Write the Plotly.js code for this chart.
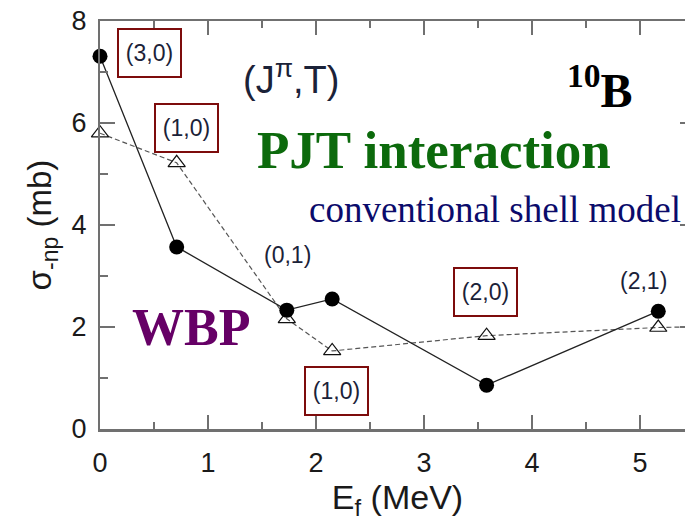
<!DOCTYPE html>
<html>
<head>
<meta charset="utf-8">
<script src="https://cdn.plot.ly/plotly-3.0.1.min.js"></script>
<style>
  html, body { margin: 0; padding: 0; overflow: hidden; background: #fff; }
  #chart { width: 700px; height: 523px; }
</style>
</head>
<body>
<div id="chart"></div>
<script>
// Excitation energies of the final states (MeV)
const energyWBP = [0, 0.71, 1.73, 2.15, 3.58, 5.17];
// sigma_-np cross sections from the WBP interaction (mb)
const sigmaWBP = [7.31, 3.57, 2.33, 2.55, 0.86, 2.31];

// Conventional shell model (PJT interaction)
const energyPJT = [0, 0.71, 1.73, 2.15, 3.58, 5.17, 5.62];
const sigmaPJT = [5.80, 5.22, 2.16, 1.53, 1.83, 1.99, 2.01];

// State labels (J^pi, T)
const stateText = ['(3,0)', '(1,0)', '(0,1)', '(1,0)', '(2,0)', '(2,1)'];
const stateX = [0.46, 0.80, 1.74, 2.19, 3.57, 5.03];
const stateY = [7.37, 5.90, 3.41, 0.75, 2.69, 2.90];
const stateBoxed = [true, true, false, true, true, false];

const xTickVals = [0, 1, 2, 3, 4, 5];
const yTickVals = [0, 2, 4, 6, 8];

const axisGray = '#707070';
const labelInk = '#1b2238';
const boxRed = '#7d0c0c';

const traces = [
  {
    x: energyPJT, y: sigmaPJT,
    mode: 'lines+markers', type: 'scatter',
    line: { color: '#555', width: 1.2, dash: '5px,3px' },
    marker: { symbol: 'triangle-up-open', size: 15, color: '#111', line: { width: 1.2 } },
    cliponaxis: false, hoverinfo: 'skip', showlegend: false
  },
  {
    x: energyWBP, y: sigmaWBP,
    mode: 'lines+markers', type: 'scatter',
    line: { color: '#222', width: 1.3 },
    marker: { symbol: 'circle', size: 15, color: '#000' },
    cliponaxis: false, hoverinfo: 'skip', showlegend: false
  }
];

const sans = 'Liberation Sans, Arial, sans-serif';
const serif = 'Liberation Serif, Times New Roman, serif';

const annotations = stateText.map((t, i) => {
  const a = {
    x: stateX[i], y: stateY[i], xref: 'x', yref: 'y',
    text: t, showarrow: false,
    font: { family: sans, size: 23, color: labelInk }
  };
  if (stateBoxed[i]) {
    Object.assign(a, { width: 59, height: 44, bordercolor: boxRed, borderwidth: 2, borderpad: 1 });
  }
  return a;
});

annotations.push(
  { x: 1.77, y: 6.90, xref: 'x', yref: 'y', showarrow: false,
    text: '(J<sup>π</sup>,T)', font: { family: sans, size: 38, color: labelInk } },
  { x: 4.63, y: 6.70, xref: 'x', yref: 'y', showarrow: false,
    text: '<b><sup>10</sup>B</b>', font: { family: serif, size: 48, color: '#000' } },
  { x: 3.09, y: 5.47, xref: 'x', yref: 'y', showarrow: false,
    text: '<b>PJT interaction</b>', font: { family: serif, size: 53, color: '#0c6a0c' } },
  { x: 3.66, y: 4.30, xref: 'x', yref: 'y', showarrow: false,
    text: 'conventional shell model', font: { family: serif, size: 37, color: '#0b0b6b' } },
  { x: 0.84, y: 2.00, xref: 'x', yref: 'y', showarrow: false,
    text: '<b>WBP</b>', font: { family: serif, size: 52, color: '#660066' } }
);

const layout = {
  width: 700, height: 523,
  margin: { l: 100, r: 5, t: 21, b: 94 },
  paper_bgcolor: '#fff', plot_bgcolor: '#fff',
  showlegend: false,
  xaxis: {
    range: [0, 5.51], showgrid: false, zeroline: false,
    showline: true, linecolor: axisGray, linewidth: 2.5, mirror: 'allticks',
    ticks: 'inside', ticklen: 14, tickwidth: 1.5, tickcolor: axisGray,
    tickvals: xTickVals, ticktext: xTickVals.map(String),
    minor: { dtick: 0.5, ticklen: 7, tickwidth: 1.5, tickcolor: axisGray, ticks: 'inside', showgrid: false },
    tickfont: { family: sans, size: 27, color: '#1a1a1a' },
    ticklabelstandoff: 8,
    title: { text: 'E<sub>f</sub> (MeV)', font: { family: sans, size: 34, color: '#1a1a1a' }, standoff: 4 }
  },
  xaxis2: {
    overlaying: 'x', matches: 'x', side: 'bottom', anchor: 'y',
    range: [0, 5.51], showgrid: false, zeroline: false, showline: false,
    ticks: 'outside', ticklen: 10, tickwidth: 1.5, tickcolor: axisGray,
    tickvals: xTickVals, showticklabels: false,
    minor: { dtick: 0.5, ticklen: 8, tickwidth: 1.5, tickcolor: axisGray, ticks: 'outside', showgrid: false }
  },
  yaxis: {
    range: [0, 8], showgrid: false, zeroline: false,
    showline: true, linecolor: axisGray, linewidth: 2, mirror: 'allticks',
    ticks: 'inside', ticklen: 15, tickwidth: 1.5, tickcolor: axisGray,
    tickvals: yTickVals, ticktext: yTickVals.map(String),
    minor: { dtick: 1, ticklen: 8, tickwidth: 1.5, tickcolor: axisGray, ticks: 'inside', showgrid: false },
    tickfont: { family: sans, size: 27, color: '#1a1a1a' },
    ticklabelstandoff: 6,
    title: { text: 'σ<sub>-np</sub> (mb)', font: { family: sans, size: 33, color: '#1a1a1a' }, standoff: 10 }
  },
  annotations: annotations
};

Plotly.newPlot('chart', traces, layout, { displayModeBar: false, staticPlot: true });
</script>
</body>
</html>
